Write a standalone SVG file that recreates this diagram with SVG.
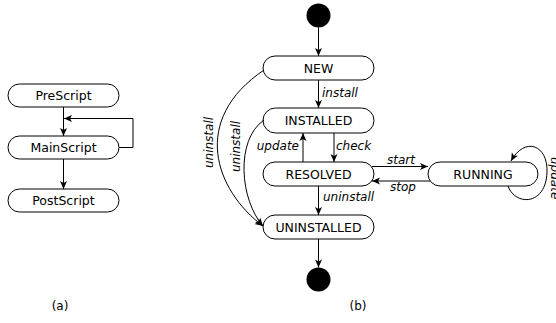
<svg xmlns="http://www.w3.org/2000/svg" width="556" height="323" viewBox="0 0 556 323">
  <style>
    .node rect { fill: #fff; stroke: #000; stroke-width: 1; }
    .node text { font-family: "DejaVu Sans", sans-serif; font-size: 12.5px; text-anchor: middle; fill: #000; }
    .edge { fill: none; stroke: #000; stroke-width: 1; marker-end: url(#arrow); }
    .lbl { font-family: "DejaVu Sans", sans-serif; font-size: 12px; font-style: italic; fill: #000; }
    .cap { font-family: "DejaVu Sans", sans-serif; font-size: 12px; text-anchor: middle; fill: #000; }
  </style>
  <defs>
    <marker id="arrow" viewBox="-9 -4 10 8" refX="0" refY="0" markerWidth="10" markerHeight="8" markerUnits="userSpaceOnUse" orient="auto">
      <path d="M0,0 L-8,-3.5 L-6,0 L-8,3.5 Z" fill="#000"/>
    </marker>
  </defs>
  <rect width="556" height="323" fill="#fff"/>

  <!-- (a) script sequence -->
  <g id="prescript" class="node">
    <rect x="8" y="84" width="111" height="23" rx="11.5"/>
    <text x="63.5" y="100">PreScript</text>
  </g>
  <g id="mainscript" class="node">
    <rect x="8" y="136" width="111" height="23" rx="11.5"/>
    <text x="63.5" y="152">MainScript</text>
  </g>
  <g id="postscript" class="node">
    <rect x="8" y="189" width="111" height="23" rx="11.5"/>
    <text x="63.5" y="205">PostScript</text>
  </g>

  <!-- (b) lifecycle states -->
  <g id="initial">
    <circle cx="318.5" cy="15.5" r="12" fill="#000"/>
  </g>
  <g id="new" class="node">
    <rect x="263" y="56" width="111" height="24" rx="12"/>
    <text x="318.5" y="72.5">NEW</text>
  </g>
  <g id="installed" class="node">
    <rect x="263" y="108" width="111" height="25" rx="12.5"/>
    <text x="318.5" y="125">INSTALLED</text>
  </g>
  <g id="resolved" class="node">
    <rect x="263" y="162" width="111" height="24" rx="12"/>
    <text x="318.5" y="178.5">RESOLVED</text>
  </g>
  <g id="running" class="node">
    <rect x="428" y="162" width="110" height="24" rx="12"/>
    <text x="483" y="178.5">RUNNING</text>
  </g>
  <g id="uninstalled" class="node">
    <rect x="263" y="215" width="111" height="24" rx="12"/>
    <text x="318.5" y="231.5">UNINSTALLED</text>
  </g>
  <g id="final">
    <circle cx="318.5" cy="279.5" r="12" fill="#000"/>
  </g>

  <!-- connectors -->
  <g id="connectors">
    <path class="edge" d="M63.5 107 V136"/>
    <path class="edge" d="M119 147.5 H133 V118.5 H64"/>
    <path class="edge" d="M63.5 159 V189"/>

    <path class="edge" d="M318.5 27.5 V56"/>
    <path class="edge" d="M318.5 80 V108"/>
    <path class="edge" d="M334 133 V162"/>
    <path class="edge" d="M303 162 V133"/>
    <path class="edge" d="M318.5 186 V215"/>
    <path class="edge" d="M318.5 239 V267.5"/>
    <path class="edge" d="M372 166.5 H428"/>
    <path class="edge" d="M430 181 H372"/>
    <path class="edge" d="M264 70 C190 120, 215 190, 263 226"/>
    <path class="edge" d="M264 120 C235 140, 240 200, 263 226"/>
    <path class="edge" d="M508 186 C515 206, 546 206, 547 172 C548 145, 525 136, 511 161"/>
  </g>

  <!-- transition labels -->
  <text class="lbl" x="322" y="97">install</text>
  <text class="lbl" x="299" y="149.5" text-anchor="end">update</text>
  <text class="lbl" x="336" y="149.5">check</text>
  <text class="lbl" x="323" y="200.5">uninstall</text>
  <text class="lbl" x="387" y="163.5">start</text>
  <text class="lbl" x="390" y="190.5">stop</text>
  <text class="lbl" transform="translate(213 142.5) rotate(-90)" text-anchor="middle">uninstall</text>
  <text class="lbl" transform="translate(240 146.5) rotate(-90)" text-anchor="middle">uninstall</text>
  <text class="lbl" transform="translate(550.5 157) rotate(90)">update</text>

  <text class="cap" x="60" y="310">(a)</text>
  <text class="cap" x="358" y="310">(b)</text>
</svg>
